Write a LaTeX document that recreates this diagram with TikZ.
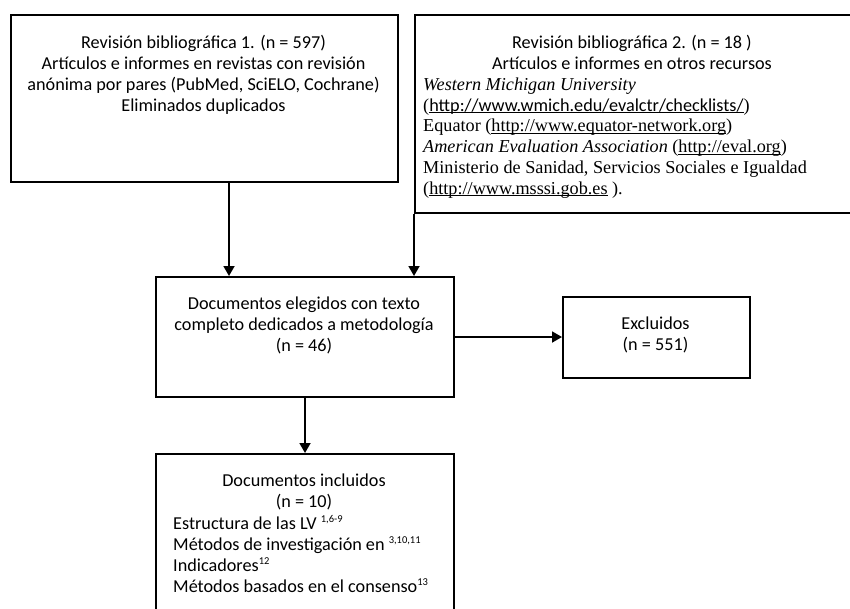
\documentclass[tikz,border=0pt]{standalone}
\usepackage{fontspec}
\setmainfont{Carlito}
\newfontfamily\tnr{Liberation Serif}
\usetikzlibrary{arrows.meta}
\newcommand\supnum[1]{\raisebox{7pt}{\fontsize{10.5}{10.5}\selectfont #1}}
\newcommand\ulink[1]{{\setbox0\hbox{#1}\rlap{\rule[-2pt]{\wd0}{0.9pt}}\box0}}
\tikzset{
  box/.style={draw, line width=2pt, inner sep=0pt, anchor=north west},
  arr/.style={line width=1.8pt, -{Triangle[length=10pt,width=11pt]}},
  txt/.style={inner sep=0pt, align=center, font=\fontsize{18.2}{21}\selectfont},
  rom/.style={inner sep=0pt, align=left, font=\tnr\fontsize{18.2}{20.8}\selectfont}
}
\begin{document}
\begin{tikzpicture}[x=1pt,y=-1pt]
\clip (0,0) rectangle (850,608);
\fill[white] (0,0) rectangle (850,608);
% boxes
\node[box, minimum width=387pt, minimum height=167pt] (b1) at (10,14) {};
\node[box, minimum width=450pt, minimum height=198pt] (b2) at (414,14) {};
\node[box, minimum width=298pt, minimum height=120pt] (mid) at (155,276) {};
\node[box, minimum width=187pt, minimum height=81pt] (excl) at (562,296) {};
\node[box, minimum width=298pt, minimum height=170pt] (inc) at (155,453) {};
% texts
\node[txt, anchor=north] (t1) at (203.5,35.3) {Revisión bibliográfica 1. (n = 597)\\Artículos e informes en revistas con revisión\\anónima por pares (PubMed, SciELO, Cochrane)\\Eliminados duplicados};
\node[txt, anchor=north] (t2) at (632,35.3) {Revisión bibliográfica 2. (n = 18 )\\Artículos e informes en otros recursos};
\node[rom, anchor=north west] (t2list) at (423,77.5) {\textit{Western Michigan University}\\(\ulink{\fontspec{Carlito}http://www.wmich.edu/evalctr/checklists/})\\Equator (\ulink{http://www.equator-network.org})\\\textit{American Evaluation Association} (\ulink{http://eval.org})\\Ministerio de Sanidad, Servicios Sociales e Igualdad\\(\ulink{http://www.msssi.gob.es} ).};
\node[txt, anchor=north] (tmid) at (304,296.9) {Documentos elegidos con texto\\completo dedicados a metodología\\(n = 46)};
\node[txt, anchor=north] (texcl) at (655.5,316.9) {Excluidos\\(n = 551)};
\node[txt, anchor=north] (tinc) at (304,473.9) {Documentos incluidos\\(n = 10)};
\node[txt, align=left, anchor=north west] (tinclist) at (173,514.8) {Estructura de las LV \supnum{1,6-9}\\Métodos de investigación en \supnum{3,10,11}\\Indicadores\supnum{12}\\Métodos basados en el consenso\supnum{13}};
% connectors
\draw[arr] ([xshift=24.5pt]b1.south) -- ([xshift=24.5pt]b1.south |- mid.north);
\draw[arr] (b2.south west) -- (b2.south west |- mid.north);
\draw[arr] (mid.east) -- (mid.east -| excl.west);
\draw[arr] (mid.south) -- (inc.north);
\end{tikzpicture}
\end{document}
